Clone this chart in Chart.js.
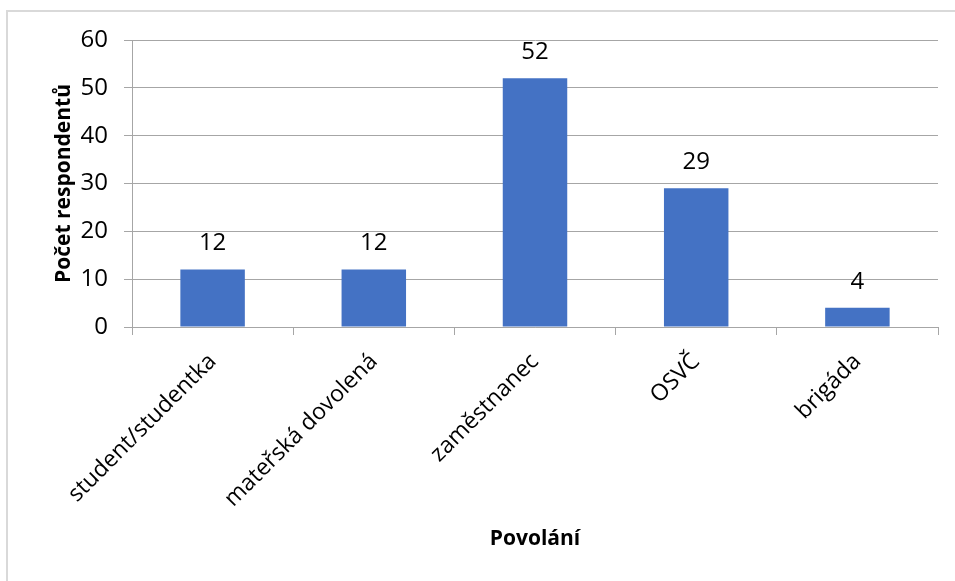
<!DOCTYPE html>
<html>
<head>
<meta charset="utf-8">
<script src="https://cdn.jsdelivr.net/npm/chart.js@4"></script>
<style>
	html, body { margin: 0; padding: 0; background: #fff; }
	#wrap { position: relative; width: 955px; height: 581px; overflow: hidden; }
	#frame { position: absolute; left: 6px; top: 10px; width: 1000px; height: 1000px; border-left: 2px solid #d9d9d9; border-top: 2px solid #d9d9d9; }
	canvas { position: absolute; left: 0; top: 0; }
</style>
</head>
<body>
<div id="wrap">
	<div id="frame"></div>
	<canvas id="chart" width="955" height="581"></canvas>
</div>
<script>
	const categories = ["student/studentka", "mateřská dovolená", "zaměstnanec", "OSVČ", "brigáda"];
	const respondents = [12, 12, 52, 29, 4];
	const yTicks = [0, 10, 20, 30, 40, 50, 60];

	const fontFamily = "'Open Sans', 'Noto Sans', sans-serif";
	const axisGray = "#a6a6a6";

	// value labels above each bar
	const valueLabels = {
		id: "valueLabels",
		afterDatasetsDraw(chart) {
			const ctx = chart.ctx;
			const meta = chart.getDatasetMeta(0);
			ctx.save();
			ctx.font = "24px " + fontFamily;
			ctx.fillStyle = "#000";
			ctx.textAlign = "center";
			ctx.textBaseline = "middle";
			meta.data.forEach((bar, i) => {
				ctx.fillText(String(respondents[i]), bar.x, bar.y - 26);
			});
			ctx.restore();
		}
	};

	new Chart(document.getElementById("chart"), {
		type: "bar",
		data: {
			labels: categories,
			datasets: [{
				label: "Počet respondentů",
				data: respondents,
				backgroundColor: "#4472C4",
				categoryPercentage: 1,
				barPercentage: 0.4
			}]
		},
		options: {
			responsive: false,
			animation: false,
			layout: { padding: { top: 40, right: 17, left: 47, bottom: 25 } },
			plugins: {
				legend: { display: false },
				tooltip: { enabled: false }
			},
			scales: {
				x: {
					afterFit(scale) { scale.height = 229; },
					grid: {
						offset: true,
						drawOnChartArea: false,
						drawTicks: true,
						tickLength: 8,
						color: axisGray
					},
					border: { color: axisGray, width: 1 },
					ticks: {
						maxRotation: 45,
						minRotation: 45,
						padding: 13,
						color: "#000",
						font: { family: fontFamily, size: 23 }
					},
					title: {
						display: true,
						text: "Povolání",
						color: "#000",
						font: { family: fontFamily, size: 21, weight: "bold" }
					}
				},
				y: {
					min: 0,
					max: 60,
					afterFit(scale) { scale.width = 85; },
					afterBuildTicks(scale) { scale.ticks = yTicks.map((v) => ({ value: v })); },
					grid: {
						color: axisGray,
						tickLength: 8
					},
					border: { color: axisGray, width: 1 },
					ticks: {
						padding: 16,
						color: "#000",
						font: { family: fontFamily, size: 24 }
					},
					title: {
						display: true,
						text: "Počet respondentů",
						color: "#000",
						font: { family: fontFamily, size: 21, weight: "bold" }
					}
				}
			}
		},
		plugins: [valueLabels]
	});
</script>
</body>
</html>
